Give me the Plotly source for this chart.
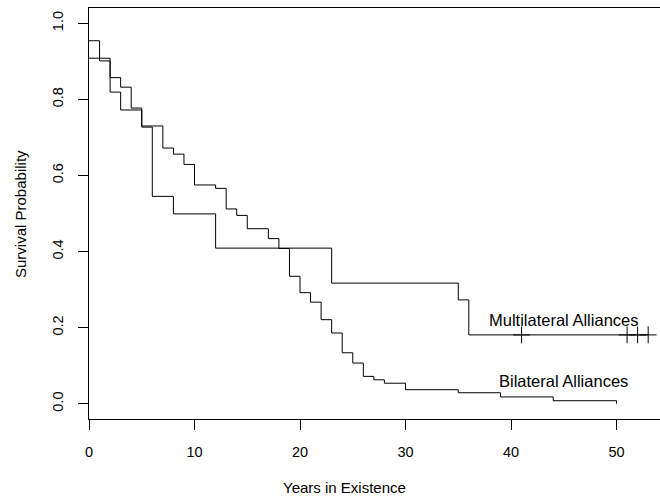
import plotly.graph_objects as go

# Bilateral alliances Kaplan-Meier estimate (step function)
bil_times = [0, 1, 2, 3, 4, 5, 7, 8, 9, 10, 12, 13, 14, 15, 17, 18, 19, 20, 21, 22,
             23, 24, 25, 26, 27, 28, 30, 35, 39, 44, 50]
bil_surv = [0.954, 0.901, 0.857, 0.832, 0.777, 0.730, 0.672, 0.656, 0.629, 0.575,
            0.566, 0.512, 0.495, 0.460, 0.434, 0.408, 0.335, 0.292, 0.267, 0.221,
            0.186, 0.134, 0.107, 0.072, 0.063, 0.054, 0.037, 0.029, 0.018, 0.008, 0.0]

# Multilateral alliances
mul_times = [0, 2, 3, 5, 6, 8, 12, 23, 35, 36, 53]
mul_surv = [0.908, 0.819, 0.772, 0.727, 0.545, 0.499, 0.409, 0.317, 0.273, 0.181, 0.181]
mul_censor_times = [41, 51, 52, 53]
mul_censor_surv = [0.181, 0.181, 0.181, 0.181]

x_ticks = [0, 10, 20, 30, 40, 50]
y_ticks = [0.0, 0.2, 0.4, 0.6, 0.8, 1.0]
y_tick_labels = ["0.0", "0.2", "0.4", "0.6", "0.8", "1.0"]

labels = ["Multilateral Alliances", "Bilateral Alliances"]
label_x = [45, 45]
label_y = [0.22, 0.06]

FONT = "Liberation Sans, Arial, sans-serif"

fig = go.Figure()
fig.add_trace(go.Scatter(x=bil_times, y=bil_surv, mode="lines", line_shape="hv",
                         line=dict(color="black", width=1), hoverinfo="skip"))
fig.add_trace(go.Scatter(x=mul_times, y=mul_surv, mode="lines", line_shape="hv",
                         line=dict(color="black", width=1), hoverinfo="skip"))
fig.add_trace(go.Scatter(x=mul_censor_times, y=mul_censor_surv, mode="markers",
                         marker=dict(symbol="cross-thin", size=12,
                                     line=dict(color="black", width=1)),
                         hoverinfo="skip"))

for t, xx, yy in zip(labels, label_x, label_y):
    fig.add_annotation(x=xx, y=yy, xref="x", yref="y", text=t, showarrow=False,
                       font=dict(family=FONT, size=16.5, color="black"),
                       xanchor="center", yanchor="middle")

fig.add_annotation(x=(344 - 89) / 571, y=(419 - 488) / 411, xref="paper", yref="paper",
                   text="Years in Existence", showarrow=False,
                   font=dict(family=FONT, size=15, color="black"),
                   xanchor="center", yanchor="middle")
fig.add_annotation(x=(20 - 89) / 571, y=(419 - 214) / 411, xref="paper", yref="paper",
                   text="Survival Probability", showarrow=False, textangle=-90,
                   font=dict(family=FONT, size=15, color="black"),
                   xanchor="center", yanchor="middle")

fig.update_layout(
    width=660, height=499,
    margin=dict(l=89, r=0, t=8, b=80, autoexpand=False),
    plot_bgcolor="white", paper_bgcolor="white",
    showlegend=False,
    font=dict(family=FONT, size=14, color="black"),
    xaxis=dict(range=[0, 54.12], tickvals=x_ticks, ticks="outside", ticklen=10,
               tickcolor="black", showline=True, linecolor="black", linewidth=1,
               mirror=True, showgrid=False, zeroline=False, automargin=False,
               ticklabelstandoff=10,
               tickfont=dict(family=FONT, size=14.5, color="black")),
    yaxis=dict(range=[-0.04, 1.04], tickvals=y_ticks, ticktext=y_tick_labels,
               ticks="outside", ticklen=10, tickangle=-90,
               tickcolor="black", showline=True, linecolor="black", linewidth=1,
               mirror=False, showgrid=False, zeroline=False, automargin=False,
               ticklabelstandoff=9,
               tickfont=dict(family=FONT, size=14.5, color="black")),
)

fig.write_html("out.html", config={"displayModeBar": False},
               post_script="document.body.style.margin='0';document.body.style.overflow='hidden';")
